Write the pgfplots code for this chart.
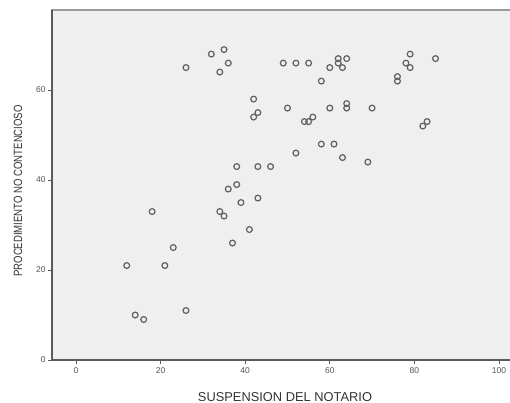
\documentclass[border=0pt]{standalone}
\usepackage{pgfplots}
\pgfplotsset{compat=1.18}
\usepackage{fontspec}
\setmainfont{Liberation Sans}
\definecolor{bgc}{HTML}{EFEFEF}
\definecolor{mkc}{HTML}{606060}
\definecolor{axc}{HTML}{5A5A5A}
\definecolor{frc}{HTML}{9A9A9A}
\definecolor{tlc}{HTML}{555555}
\begin{document}
\begin{tikzpicture}
\useasboundingbox (0,0) rectangle (510bp,403bp);
\begin{axis}[
  at={(52bp,43bp)}, anchor=south west,
  scale only axis,
  width=466bp, height=350bp,
  xmin=-5.67, xmax=104.5,
  ymin=0, ymax=77.8,
  xtick={0,20,40,60,80,100},
  ytick={0,20,40,60},
  xtick pos=bottom, ytick pos=left,
  tick align=outside,
  major tick length=4bp,
  tick style={draw=axc, line width=0.9bp},
  axis background/.style={fill=bgc},
  axis line style={draw=frc, line width=1.6bp},
  /pgf/number format/assume math mode=true,
  tick label style={font=\fontsize{8.5}{10}\selectfont, text=tlc},
  xticklabel style={yshift=0bp},
  yticklabel style={xshift=1bp},
  xlabel={SUSPENSION DEL NOTARIO},
  ylabel={\scalebox{0.8}[1]{PROCEDIMIENTO NO CONTENCIOSO}},
  every axis x label/.style={at={(axis description cs:0.5,-0.106)}, anchor=center, font=\fontsize{12.9}{15}\selectfont, text=black!80},
  every axis y label/.style={at={(axis description cs:-0.073,0.483)}, anchor=center, rotate=90, font=\fontsize{12}{14}\selectfont, text=black!80},
  clip=false,
]
\addplot[only marks, mark=o, mark size=2.9bp, mark options={draw=mkc, line width=1.2bp}] coordinates {
(12,21) (14,10) (16,9) (18,33) (21,21) (23,25) (26,11) (26,65)
(32,68) (34,64) (34,33) (35,69) (35,32) (36,66) (36,38) (37,26)
(38,39) (38,43) (39,35) (41,29) (42,58) (42,54) (43,55) (43,43)
(43,36) (46,43) (49,66) (50,56) (52,66) (52,46) (54,53) (55,53)
(55,66) (56,54) (58,62) (58,48) (60,65) (60,56) (61,48) (62,67)
(62,66) (63,65) (63,45) (64,67) (64,57) (64,56) (69,44) (70,56)
(76,63) (76,62) (78,66) (79,68) (79,65) (82,52) (83,53) (85,67)
};
\draw[axc, line width=1.3bp] (axis description cs:0,1) -- (axis description cs:0,0) -- (axis description cs:1,0);
\end{axis}
\end{tikzpicture}
\end{document}
